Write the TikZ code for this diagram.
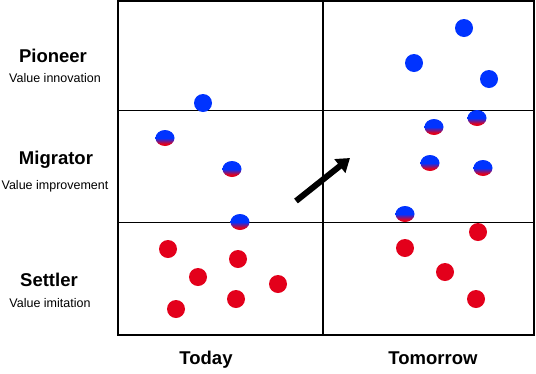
\documentclass[tikz,border=0pt]{standalone}
\usepackage{fontspec}
\setmainfont{Liberation Sans}
\usepackage{xcolor}
\usepackage{tikz}
\usetikzlibrary{arrows.meta,shapes.geometric}

\definecolor{dotblue}{RGB}{0,51,255}
\definecolor{dotred}{RGB}{227,0,27}
\pgfdeclareverticalshading{bluered}{100bp}{color(0bp)=(dotred); color(32bp)=(dotred); color(50bp)=(dotblue); color(100bp)=(dotblue)}

\tikzset{
	blue dot/.style={circle,fill=dotblue,inner sep=0pt,minimum size=18pt},
	red dot/.style={circle,fill=dotred,inner sep=0pt,minimum size=18pt},
	mixed dot/.style={ellipse,shading=bluered,inner sep=0pt,minimum width=19pt,minimum height=16pt},
	title/.style={font=\bfseries\fontsize{18.5}{21}\selectfont},
	subtitle/.style={font=\fontsize{12.5}{14}\selectfont}
}

\begin{document}
\begin{tikzpicture}[x=1pt,y=-1pt]
	\useasboundingbox (0,0) rectangle (536,373);
	% grid
	\draw[line width=1.2pt] (118,1) rectangle (534,335);
	\draw[line width=1.2pt] (323,1) -- (323,335);
	\draw[line width=1pt] (118,110) -- (534,110);
	\draw[line width=1pt] (118,222) -- (534,222);
	% row labels
	\node[title] at (53,56) (pio) {Pioneer};
	\node[subtitle] at (55,78) (pio-v) {Value innovation};
	\node[title] at (56,160) (mig) {Migrator};
	\node[subtitle] at (55,186) (mig-v) {Value improvement};
	\node[title] at (49,280) (set) {Settler};
	\node[subtitle] at (50,303) (set-v) {Value imitation};
	% column labels
	\node[title] at (206,360) (today) {Today};
	\node[title] at (433,358) (tomorrow) {Tomorrow};
	% today
	\node[blue dot] at (203,103) (t1) {};
	\node[mixed dot] at (165,138) (t2) {};
	\node[mixed dot] at (232,169) (t3) {};
	\node[mixed dot] at (240,222) (t4) {};
	\node[red dot] at (168,249) (t5) {};
	\node[red dot] at (238,259) (t6) {};
	\node[red dot] at (198,277) (t7) {};
	\node[red dot] at (278,284) (t8) {};
	\node[red dot] at (236,299) (t9) {};
	\node[red dot] at (176,309) (t10) {};
	% tomorrow
	\node[blue dot] at (464,28) (m1) {};
	\node[blue dot] at (414,63) (m2) {};
	\node[blue dot] at (489,79) (m3) {};
	\node[mixed dot] at (477,118) (m4) {};
	\node[mixed dot] at (434,127) (m5) {};
	\node[mixed dot] at (430,163) (m6) {};
	\node[mixed dot] at (483,168) (m7) {};
	\node[mixed dot] at (405,214) (m8) {};
	\node[red dot] at (478,232) (m9) {};
	\node[red dot] at (405,248) (m10) {};
	\node[red dot] at (445,272) (m11) {};
	\node[red dot] at (476,299) (m12) {};
	% shift
	\coordinate (from) at (296,201);
	\coordinate (to) at (350,158);
	\draw[line width=6pt,-{Triangle[length=13pt,width=17pt]}] (from) -- (to);
\end{tikzpicture}
\end{document}
